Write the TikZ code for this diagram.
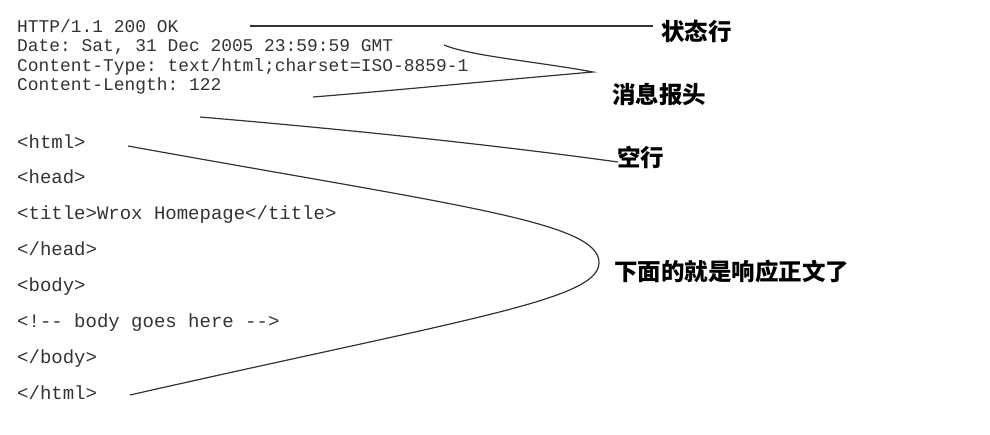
\documentclass[tikz,border=0pt]{standalone}
\usepackage{fontspec}
\setmonofont{Liberation Mono}
\newfontfamily\cjk{Noto Sans CJK SC}
\usepackage{tikz}
\usetikzlibrary{positioning}

\tikzset{
  hdr/.style={anchor=base west, inner sep=0pt, text=black!80, font=\ttfamily\fontsize{17.9}{19.5}\selectfont},
  html/.style={anchor=base west, inner sep=0pt, text=black!80, font=\ttfamily\fontsize{19}{21}\selectfont},
  lbl/.style={anchor=base west, inner sep=0pt, font=\cjk\bfseries\fontsize{23.5}{26}\selectfont},
  brace/.style={draw=black!80, line width=1.2pt}
}

\begin{document}
\begin{tikzpicture}[x=1pt, y=-1pt]
        \useasboundingbox (0,0) rectangle (990,434);
        % Define nodes
        \node[hdr] (h1) at (17,32) {HTTP/1.1 200 OK};
        \node[hdr] (h2) at ([yshift=-19.6pt]h1.base west) {Date: Sat, 31 Dec 2005 23:59:59 GMT};
        \node[hdr] (h3) at ([yshift=-19.6pt]h2.base west) {Content-Type: text/html;charset=ISO-8859-1};
        \node[hdr] (h4) at ([yshift=-19.6pt]h3.base west) {Content-Length: 122};
        \node[html] (b1) at (17,148) {<html>};
        \node[html] (b2) at ([yshift=-35.9pt]b1.base west) {<head>};
        \node[html] (b3) at ([yshift=-35.9pt]b2.base west) {<title>Wrox Homepage</title>};
        \node[html] (b4) at ([yshift=-35.9pt]b3.base west) {</head>};
        \node[html] (b5) at ([yshift=-35.9pt]b4.base west) {<body>};
        \node[html] (b6) at ([yshift=-35.9pt]b5.base west) {<!-- body goes here -->};
        \node[html] (b7) at ([yshift=-35.9pt]b6.base west) {</body>};
        \node[html] (b8) at ([yshift=-35.9pt]b7.base west) {</html>};
        \node[lbl] (status) at (661,40.5) {状态行};
        \node[lbl] (header) at (612,103.5) {消息报头};
        \node[lbl] (blank) at (617,166.5) {空行};
        \node[lbl] (body) at (614,280) {下面的就是响应正文了};
        % Connector ends
        \coordinate (s0) at (250,26);
        \coordinate (s1) at (653,26);
        \coordinate (m0) at (444,45);
        \coordinate (m1) at (593,72);
        \coordinate (m2) at (313,97);
        \coordinate (k0) at (200,117);
        \coordinate (k1) at (618,162);
        \coordinate (z0) at (128,146);
        \coordinate (z1) at (599,263);
        \coordinate (z2) at (130,395);
        % Connect nodes
        \draw[brace] (s0) -- (s1);
        \draw[brace] (m0) .. controls (470,56) and (540,62) .. (m1)
                          .. controls (500,80) and (400,90) .. (m2);
        \draw[brace] (k0) .. controls (330,128) and (480,143) .. (k1);
        \draw[brace] (z0) .. controls (460,206) and (600,222) .. (z1)
                          .. controls (598,300) and (470,318) .. (z2);
    \end{tikzpicture}
\end{document}
